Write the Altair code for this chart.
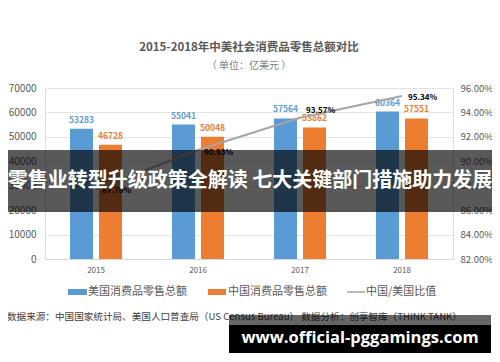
import altair as alt
import pandas as pd

FONT = "Noto Sans CJK SC"

years = ["2015", "2016", "2017", "2018"]
us_sales = [53283, 55041, 57564, 60364]
cn_sales = [46728, 50048, 53862, 57551]
ratio = [0.8770, 0.9093, 0.9357, 0.9534]
series_names = ["美国消费品零售总额", "中国消费品零售总额"]
series_colors = ["#5b9bd5", "#ed7d31"]
line_name = "中国/美国比值"
line_color = "#a5a5a5"
left_ticks = [0, 10000, 20000, 30000, 40000, 50000, 60000, 70000]
right_ticks = [0.82, 0.84, 0.86, 0.88, 0.90, 0.92, 0.94, 0.96]
ratio_label_dy = {"2015": 2, "2016": 3, "2017": -7, "2018": 2}

title_text = "2015-2018年中美社会消费品零售总额对比"
subtitle_text = "（ 单位：亿美元 ）"
source_text = "数据来源：中国国家统计局、美国人口普查局（US Census Bureau）  数据分析：创享智库（THINK  TANK）"
banner_text = "零售业转型升级政策全解读 七大关键部门措施助力发展"
site_text = "www.official-pggamings.com"

bars_df = pd.DataFrame({
    "year": years * 2,
    "series": [series_names[0]] * len(years) + [series_names[1]] * len(years),
    "value": us_sales + cn_sales,
})
ratio_df = pd.DataFrame({"year": years, "ratio": ratio})
one = pd.DataFrame({"a": [0]})

x_enc = alt.X(
    "year:N",
    sort=years,
    scale=alt.Scale(paddingInner=0.49, paddingOuter=0.245),
    axis=alt.Axis(title=None, labelAngle=0, ticks=False, domain=True,
                  domainColor="#d9d9d9", labelFontSize=8, labelColor="#595959",
                  labelPadding=7, labelFont=FONT),
)
xoff = alt.XOffset("series:N", sort=series_names,
                   scale=alt.Scale(domain=series_names, paddingInner=0.207, paddingOuter=0))
color = alt.Color("series:N", scale=alt.Scale(domain=series_names, range=series_colors), legend=None)
y_left = alt.Y(
    "value:Q",
    scale=alt.Scale(domain=[0, 70000], nice=False),
    axis=alt.Axis(values=left_ticks, title=None, ticks=False, domain=False,
                  gridColor="#e4e4e4", labelColor="#595959", labelFontSize=10,
                  labelPadding=9, format="d", labelFont=FONT),
)

bars = alt.Chart(bars_df).mark_bar().encode(x=x_enc, xOffset=xoff, y=y_left, color=color)
bar_labels = alt.Chart(bars_df).mark_text(
    dy=-9, fontSize=8.5, fontWeight="bold", font=FONT
).encode(x=x_enc, xOffset=xoff, y=y_left, text=alt.Text("value:Q", format="d"), color=color)

y_right = alt.Y(
    "ratio:Q",
    scale=alt.Scale(domain=[0.82, 0.96], nice=False),
    axis=alt.Axis(values=right_ticks, orient="right", title=None, ticks=False, domain=False,
                  grid=False, labelColor="#595959", labelFontSize=9.5, labelPadding=7,
                  format=".2%", labelFont=FONT),
)
line = alt.Chart(ratio_df).mark_line(color=line_color, strokeWidth=2).encode(x=x_enc, y=y_right)
line_label_layers = [
    alt.Chart(ratio_df).transform_filter(alt.datum.year == yr).mark_text(
        align="left", dx=6, dy=ratio_label_dy[yr], fontSize=8, fontWeight="bold",
        color="#000000", font=FONT
    ).encode(x=x_enc, y=y_right, text=alt.Text("ratio:Q", format=".2%"))
    for yr in years
]

main = alt.layer(
    alt.layer(bars, bar_labels),
    alt.layer(line, *line_label_layers),
).resolve_scale(y="independent")

# legend
leg_us = alt.Chart(one).mark_rect(color=series_colors[0]).encode(
    x=alt.value(23), x2=alt.value(42), y=alt.value(201), y2=alt.value(207))
leg_cn = alt.Chart(one).mark_rect(color=series_colors[1]).encode(
    x=alt.value(163), x2=alt.value(181), y=alt.value(201), y2=alt.value(207))
leg_line = alt.Chart(one).mark_rule(color=line_color, strokeWidth=1.5).encode(
    x=alt.value(302), x2=alt.value(320), y=alt.value(204))
leg_t1 = alt.Chart(one).mark_text(align="left", baseline="middle", fontSize=11, color="#595959", font=FONT).encode(
    x=alt.value(43), y=alt.value(204), text=alt.value(series_names[0]))
leg_t2 = alt.Chart(one).mark_text(align="left", baseline="middle", fontSize=11, color="#595959", font=FONT).encode(
    x=alt.value(183), y=alt.value(204), text=alt.value(series_names[1]))
leg_t3 = alt.Chart(one).mark_text(align="left", baseline="middle", fontSize=11, color="#595959", font=FONT).encode(
    x=alt.value(321), y=alt.value(204), text=alt.value(line_name))

source = alt.Chart(one).mark_text(align="left", baseline="middle", fontSize=9.6, color="#404040", font=FONT).encode(
    x=alt.value(-38), y=alt.value(229), text=alt.value(source_text))

band = alt.Chart(one).mark_rect(color="#000000", opacity=0.65).encode(
    x=alt.value(-38), x2=alt.value(448), y=alt.value(62), y2=alt.value(124))
band_txt = alt.Chart(one).mark_text(align="center", baseline="middle", fontSize=20, fontWeight="bold",
                                    color="#ffffff", font=FONT).encode(
    x=alt.value(205), y=alt.value(93), text=alt.value(banner_text))

box_gray = alt.Chart(one).mark_rect(color="#000000", opacity=0.6).encode(
    x=alt.value(184), x2=alt.value(446), y=alt.value(227), y2=alt.value(237))
box_black = alt.Chart(one).mark_rect(color="#000000").encode(
    x=alt.value(184), x2=alt.value(446), y=alt.value(237), y2=alt.value(265))
box_txt = alt.Chart(one).mark_text(align="center", baseline="middle", fontSize=16.5, fontWeight="bold",
                                   color="#ffffff", font="Open Sans").encode(
    x=alt.value(315), y=alt.value(250), text=alt.value(site_text))

chart = alt.layer(
    main, leg_us, leg_cn, leg_line, leg_t1, leg_t2, leg_t3, source,
    band, band_txt, box_gray, box_black, box_txt
).properties(
    width=408, height=171,
    autosize=alt.AutoSizeParams(type="none"),
    padding={"left": 37, "top": 80, "right": 39, "bottom": 95},
    title=alt.TitleParams(text=title_text, subtitle=subtitle_text, anchor="middle",
                          fontSize=11.5, fontWeight="bold", color="#595959", font=FONT,
                          subtitleFont=FONT, subtitleFontSize=10, subtitleColor="#7f7f7f",
                          offset=12, subtitlePadding=8),
).configure_view(stroke=None).configure(background="#ffffff")

chart.save("out.html", embed_options={"renderer": "svg", "actions": False})
